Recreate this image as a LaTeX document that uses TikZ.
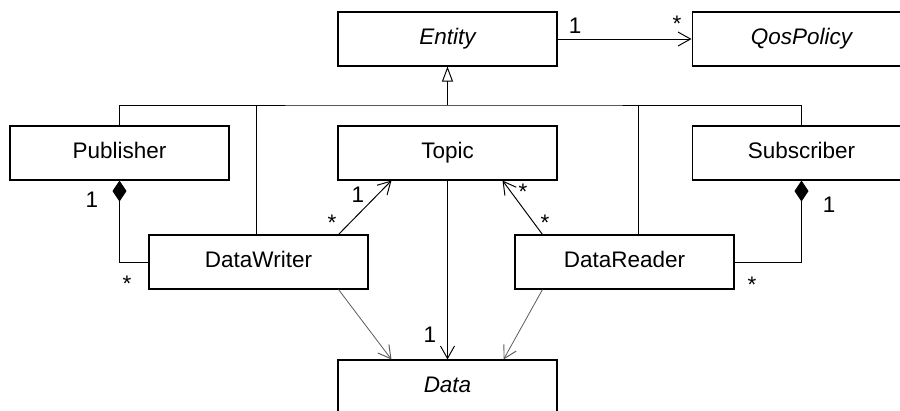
\documentclass[tikz,border=0pt]{standalone}
\usepackage{fontspec}
\setmainfont{Liberation Sans}
\usetikzlibrary{arrows.meta}
\definecolor{linegray}{HTML}{5A5A5A}

\tikzset{
  classbox/.style={draw, line width=0.6pt, minimum width=4.38cm, minimum height=1.08cm,
    inner sep=0pt, text height=1.6ex, text depth=0.4ex, font=\fontsize{12.8}{15}\selectfont},
  abstractbox/.style={classbox, font=\fontsize{12.8}{15}\selectfont\itshape},
  link/.style={line width=0.55pt},
  navlink/.style={link, -{Straight Barb[length=0.25cm, width=0.28cm, line width=0.55pt]}},
  lightlink/.style={navlink, linegray, line width=0.45pt},
  inherit/.style={link, -{Triangle[open, length=0.3cm, width=0.22cm, line width=0.55pt]}},
  compose/.style={link, -{Diamond[length=0.42cm, width=0.28cm]}},
  mult/.style={font=\fontsize{12.8}{15}\selectfont, inner sep=0pt}
}

\begin{document}
\begin{tikzpicture}[x=0.02cm, y=-0.02cm]
      \clip (0,0) rectangle (900,410);

      \node[abstractbox] (entity) at (447.5,39) {Entity};
      \node[abstractbox] (qos) at (801.5,39) {QosPolicy};
      \node[classbox] (publisher) at (119.5,153) {Publisher};
      \node[classbox] (topic) at (447.5,153) {Topic};
      \node[classbox] (subscriber) at (801.5,153) {Subscriber};
      \node[classbox] (writer) at (258.5,262) {DataWriter};
      \node[classbox] (reader) at (624.5,262) {DataReader};
      \node[abstractbox] (data) at (447.5,387) {Data};
      \coordinate (bus) at (447.5,105);

      \draw[navlink] (entity.east) -- (qos.west);
      \node[mult] (qos1) at (575,26) {1};
      \node[mult] (qosstar) at (677,24) {*};

      \draw[inherit] (bus) -- (entity.south);
      \draw[link] (publisher.north) |- (bus) -| (subscriber.north);
      \draw[link] ([xshift=-0.05cm]writer.north) -- ([xshift=-0.05cm]writer.north |- bus);
      \draw[link] ([xshift=0.27cm]reader.north) -- ([xshift=0.27cm]reader.north |- bus);

      \draw[compose] (writer.west) -| (publisher.south);
      \node[mult] (pub1) at (92,200) {1};
      \node[mult] (pubstar) at (127,284) {*};
      \draw[compose] (reader.east) -| (subscriber.south);
      \node[mult] (sub1) at (829,205) {1};
      \node[mult] (substar) at (752,285) {*};

      \draw[navlink] ([xshift=-0.6cm]writer.north east) -- ([xshift=1.08cm]topic.south west);
      \node[mult] (wtop1) at (358,195) {1};
      \node[mult] (wtopstar) at (332,223) {*};
      \draw[navlink] ([xshift=0.56cm]reader.north west) -- ([xshift=-1.1cm]topic.south east);
      \node[mult] (rtopstar) at (523,192) {*};
      \node[mult] (rtopstar2) at (545,223) {*};

      \draw[navlink] (topic.south) -- (data.north);
      \node[mult] (data1) at (430,335) {1};
      \draw[lightlink] ([xshift=-0.6cm]writer.south east) -- ([xshift=1.08cm]data.north west);
      \draw[lightlink] ([xshift=0.56cm]reader.south west) -- ([xshift=-1.08cm]data.north east);
    \end{tikzpicture}
\end{document}
